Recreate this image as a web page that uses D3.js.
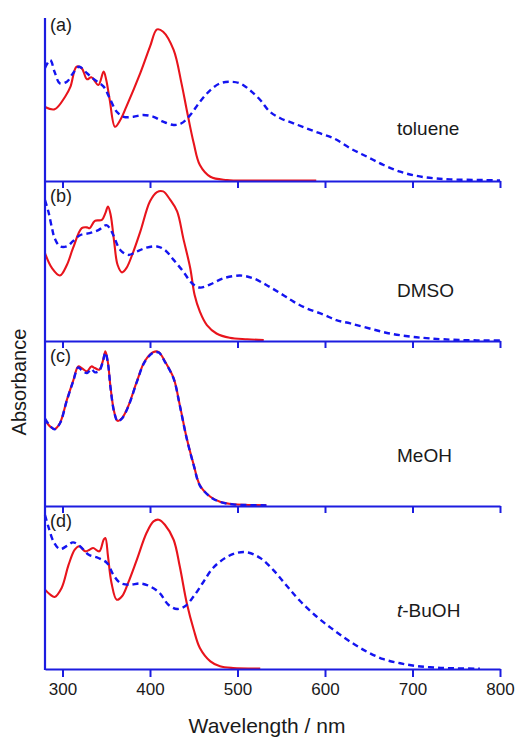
<!DOCTYPE html>
<html lang="en">
<head>
  <meta charset="UTF-8">
  <title>Absorbance spectra in four solvents</title>
  <script src="https://d3js.org/d3.v7.min.js"></script>
  <style>
    body { margin: 0; background: #fff; }
    text { font-family: "Liberation Sans", Arial, sans-serif; fill: #1a1a1a; }
  </style>
</head>
<body>
  <div id="chart"></div>
  <script>
    // x ticks (nm)
    const xTicks = [300, 400, 500, 600, 700, 800];

    const panelLetters = ["(a)", "(b)", "(c)", "(d)"];
    const solvents = ["toluene", "DMSO", "MeOH", "t-BuOH"];

    // spectra: [wavelength nm, normalised absorbance]
    // red solid curves
    const redA = [[280,0.454],[291,0.44],[303,0.517],[309,0.577],[316,0.701],[322,0.691],[328,0.624],[333,0.636],[341,0.589],[347,0.671],[350,0.62],[354,0.497],[360,0.333],[366,0.374],[373,0.456],[389,0.663],[400,0.824],[408,0.93],[415,0.916],[427,0.804],[436,0.599],[442,0.436],[450,0.231],[457,0.098],[469,0.026],[488,0.006],[520,0.003],[590,0.003]];
    const redB = [[280,0.549],[288,0.455],[297,0.409],[305,0.475],[312,0.58],[322,0.705],[328,0.71],[331,0.705],[337,0.751],[345,0.757],[349,0.799],[352,0.841],[355,0.789],[359,0.622],[363,0.475],[368,0.429],[373,0.455],[381,0.559],[389,0.685],[400,0.873],[408,0.931],[415,0.935],[423,0.883],[431,0.81],[438,0.643],[446,0.455],[451,0.287],[457,0.183],[465,0.099],[476,0.047],[491,0.02],[511,0.011],[530,0.006]];
    const redC = [[280,0.522],[286,0.481],[291,0.467],[297,0.502],[305,0.643],[312,0.755],[318,0.846],[322,0.836],[328,0.816],[333,0.846],[337,0.836],[342,0.826],[346,0.877],[349,0.937],[352,0.866],[355,0.714],[359,0.573],[363,0.516],[368,0.532],[375,0.603],[385,0.755],[394,0.877],[404,0.933],[410,0.933],[417,0.877],[427,0.775],[434,0.613],[442,0.41],[450,0.248],[457,0.126],[469,0.056],[480,0.026],[495,0.011],[533,0.005]];
    const redD = [[280,0.487],[286,0.456],[291,0.442],[299,0.497],[307,0.64],[314,0.732],[319,0.753],[326,0.722],[331,0.732],[335,0.742],[342,0.722],[347,0.793],[349,0.804],[352,0.691],[356,0.528],[362,0.425],[368,0.446],[375,0.528],[385,0.671],[396,0.834],[404,0.906],[410,0.916],[417,0.885],[427,0.793],[434,0.63],[442,0.405],[450,0.241],[457,0.129],[469,0.047],[480,0.017],[495,0.006],[526,0.003]];

    // blue dashed curves
    const blueA = [[280,0.693],[286,0.742],[291,0.669],[297,0.599],[305,0.609],[312,0.661],[319,0.701],[328,0.661],[337,0.62],[347,0.579],[354,0.507],[362,0.425],[370,0.394],[381,0.394],[392,0.405],[404,0.394],[415,0.364],[427,0.344],[436,0.354],[446,0.405],[457,0.486],[469,0.558],[480,0.599],[491,0.609],[503,0.599],[514,0.558],[526,0.497],[537,0.425],[549,0.385],[564,0.354],[579,0.323],[594,0.293],[610,0.262],[629,0.2],[648,0.149],[667,0.098],[686,0.057],[705,0.031],[724,0.017],[743,0.01],[781,0.006],[800,0.003]];
    const blueB = [[280,0.881],[284,0.806],[288,0.705],[291,0.643],[297,0.592],[305,0.592],[312,0.624],[320,0.661],[331,0.674],[341,0.693],[350,0.724],[354,0.705],[358,0.663],[366,0.569],[375,0.538],[385,0.559],[396,0.584],[408,0.591],[417,0.569],[427,0.507],[438,0.434],[448,0.361],[457,0.334],[469,0.354],[484,0.392],[503,0.409],[518,0.392],[533,0.35],[549,0.298],[564,0.246],[579,0.204],[598,0.166],[613,0.13],[629,0.11],[651,0.078],[674,0.047],[697,0.028],[720,0.016],[754,0.006],[800,0.003]];
    const blueC = [[280,0.53],[286,0.484],[291,0.465],[297,0.5],[305,0.64],[312,0.752],[318,0.84],[322,0.822],[328,0.806],[333,0.83],[337,0.81],[342,0.82],[346,0.872],[349,0.93],[352,0.862],[355,0.712],[359,0.57],[363,0.514],[368,0.53],[375,0.6],[385,0.752],[394,0.874],[404,0.93],[410,0.93],[417,0.874],[427,0.772],[434,0.61],[442,0.408],[450,0.246],[457,0.124],[469,0.055],[480,0.025],[495,0.01],[533,0.004]];
    const blueD = [[280,0.945],[284,0.871],[290,0.779],[297,0.736],[305,0.755],[312,0.777],[320,0.753],[330,0.701],[341,0.681],[351,0.65],[358,0.579],[366,0.528],[377,0.517],[389,0.525],[400,0.507],[411,0.466],[421,0.394],[431,0.368],[440,0.385],[450,0.446],[461,0.534],[472,0.62],[486,0.681],[499,0.712],[512,0.715],[526,0.681],[541,0.607],[556,0.512],[571,0.42],[591,0.319],[610,0.239],[629,0.167],[648,0.106],[667,0.06],[686,0.035],[705,0.018],[728,0.008],[751,0.004],[777,0.002]];

    const redSeries = [redA, redB, redC, redD];
    const blueSeries = [blueA, blueB, blueC, blueD];

    const width = 516, height = 737;
    const left = 45, right = 500;
    // panel edges (top of first panel, then each panel bottom)
    const edges = [18, 181, 341, 506, 669];
    const axisBlue = "#1c1ce0";
    const lineBlue = "#1414f0";
    const lineRed = "#e8141c";

    const svg = d3.select("#chart").append("svg")
      .attr("width", width).attr("height", height);

    const x = d3.scaleLinear().domain([280, 800]).range([left, right]);

    for (let i = 0; i < 4; i++) {
      const top = edges[i], bottom = edges[i + 1];
      const y = d3.scaleLinear().domain([0, 1]).range([bottom, top]);
      const line = d3.line()
        .x(d => x(d[0])).y(d => y(d[1]))
        .curve(d3.curveCatmullRom.alpha(0.5));

      const g = svg.append("g");

      // red solid
      g.append("path")
        .datum(redSeries[i])
        .attr("d", line)
        .attr("fill", "none")
        .attr("stroke", lineRed)
        .attr("stroke-width", 2.1);

      // blue dashed
      g.append("path")
        .datum(blueSeries[i])
        .attr("d", line)
        .attr("fill", "none")
        .attr("stroke", lineBlue)
        .attr("stroke-width", 2.4)
        .attr("stroke-dasharray", "6,4");

      // bottom axis of each panel
      const isLast = i === 3;
      const axis = d3.axisBottom(x)
        .tickValues(xTicks)
        .tickSizeInner(isLast ? 8 : 7)
        .tickSizeOuter(0)
        .tickPadding(6)
        .tickFormat(isLast ? d3.format("d") : () => "");
      const ax = svg.append("g")
        .attr("transform", `translate(0,${bottom})`)
        .call(axis);
      ax.select(".domain").attr("stroke", axisBlue).attr("stroke-width", 2.2);
      ax.selectAll(".tick line").attr("stroke", axisBlue).attr("stroke-width", 2);
      ax.selectAll(".tick text")
        .attr("font-size", 17)
        .attr("fill", "#1a1a1a")
        .style("font-family", '"Liberation Sans", Arial, sans-serif');

      // panel letter
      svg.append("text")
        .attr("x", 50)
        .attr("y", i === 0 ? 31 : top + 21)
        .attr("font-size", 18)
        .text(panelLetters[i]);
    }

    // solvent labels
    const solventY = [135, 297, 462, 617];
    solvents.forEach((s, i) => {
      const t = svg.append("text")
        .attr("x", 397)
        .attr("y", solventY[i])
        .attr("font-size", 19);
      if (s.startsWith("t-")) {
        t.append("tspan").attr("font-style", "italic").text("t");
        t.append("tspan").text(s.slice(1));
      } else {
        t.text(s);
      }
    });

    // left axis
    svg.append("line")
      .attr("x1", x(280)).attr("x2", x(280))
      .attr("y1", edges[0]).attr("y2", edges[4] + 1)
      .attr("stroke", axisBlue)
      .attr("stroke-width", 2.2);

    // axis titles
    svg.append("text")
      .attr("x", 267)
      .attr("y", 733)
      .attr("text-anchor", "middle")
      .attr("font-size", 21)
      .text("Wavelength / nm");

    svg.append("text")
      .attr("transform", "translate(26,382) rotate(-90)")
      .attr("text-anchor", "middle")
      .attr("font-size", 20)
      .text("Absorbance");
  </script>
</body>
</html>
